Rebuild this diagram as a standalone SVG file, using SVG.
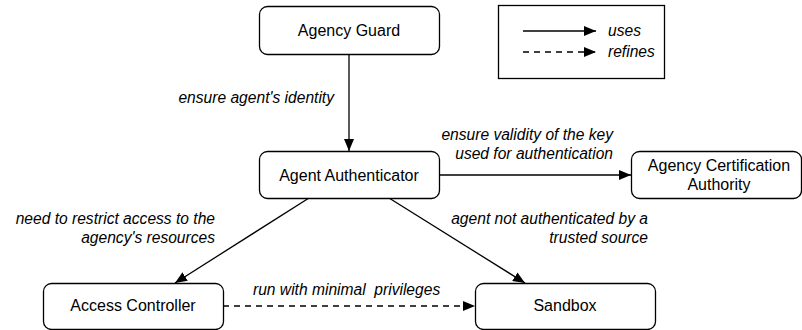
<svg xmlns="http://www.w3.org/2000/svg" width="802" height="330" viewBox="0 0 802 330">
<style>
.node rect{fill:#fff;stroke:#000;stroke-width:1.3}
.nt{font-family:"Liberation Sans",Arial,sans-serif;font-size:16px;fill:#000;text-anchor:middle}
.lbl{font-family:"Liberation Sans",Arial,sans-serif;font-size:15.6px;font-style:italic;fill:#000}
.r{text-anchor:end}
.e{stroke:#000;stroke-width:1.3;fill:none;marker-end:url(#ah)}
.d{stroke-dasharray:6,5}
</style>
<defs>
<marker id="ah" viewBox="0 0 12 10" refX="12" refY="5" markerWidth="12" markerHeight="10" markerUnits="userSpaceOnUse" orient="auto">
<path d="M0,0 L12,5 L0,10 Z" fill="#000"/>
</marker>
</defs>
<rect width="802" height="330" fill="#fff"/>
<g id="legend">
<rect x="498.5" y="5.5" width="166" height="73" fill="#fff" stroke="#000" stroke-width="1.3"/>
<line class="e" x1="523" y1="31" x2="596" y2="31"/>
<line class="e d" x1="523" y1="52" x2="596" y2="52"/>
<text class="lbl" x="608" y="36">uses</text>
<text class="lbl" x="608" y="57">refines</text>
</g>
<g id="connectors">
<line class="e" x1="349" y1="54" x2="349" y2="151"/>
<line class="e" x1="439" y1="175" x2="631" y2="175"/>
<line class="e" x1="309" y1="198" x2="175" y2="283"/>
<line class="e" x1="389" y1="198" x2="525" y2="283"/>
<line class="e d" x1="223" y1="306" x2="475" y2="306"/>
<text class="lbl r" x="334" y="103">ensure agent's identity</text>
<text class="lbl r" x="613" y="140">ensure validity of the key</text>
<text class="lbl r" x="613" y="159">used for authentication</text>
<text class="lbl r" x="215" y="224">need to restrict access to the</text>
<text class="lbl r" x="215" y="243">agency's resources</text>
<text class="lbl r" x="648" y="224">agent not authenticated by a</text>
<text class="lbl r" x="648" y="243">trusted source</text>
<text class="lbl" x="253" y="295" xml:space="preserve">run with minimal  privileges</text>
</g>
<g id="agency-guard" class="node">
<rect x="259.5" y="6.5" width="180" height="48" rx="8"/>
<text class="nt" x="349" y="36">Agency Guard</text>
</g>
<g id="agent-authenticator" class="node">
<rect x="259.5" y="151.5" width="180" height="47" rx="8"/>
<text class="nt" x="349" y="181">Agent Authenticator</text>
</g>
<g id="agency-certification-authority" class="node">
<rect x="631.5" y="151.5" width="170" height="47" rx="8"/>
<text class="nt" x="719" y="171">Agency Certification</text>
<text class="nt" x="719" y="190">Authority</text>
</g>
<g id="access-controller" class="node">
<rect x="43.5" y="283.5" width="180" height="46" rx="8"/>
<text class="nt" x="133" y="311">Access Controller</text>
</g>
<g id="sandbox" class="node">
<rect x="475.5" y="283.5" width="180" height="46" rx="8"/>
<text class="nt" x="565" y="311">Sandbox</text>
</g>
</svg>
